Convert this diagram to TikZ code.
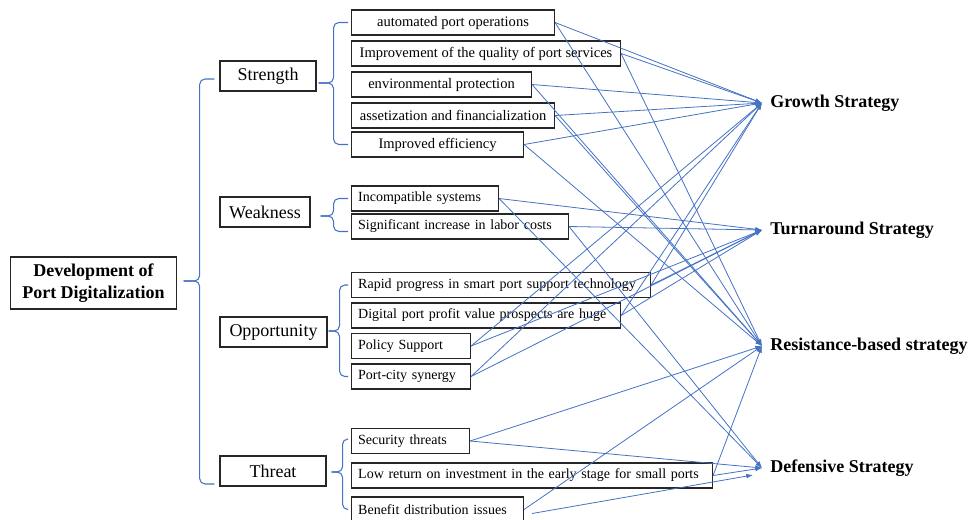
\documentclass[tikz,border=0pt]{standalone}
\usepackage{fontspec}
\setmainfont{Liberation Serif}
\usetikzlibrary{positioning}
\usetikzlibrary{calc}
\usetikzlibrary{arrows.meta}
\definecolor{lineblue}{RGB}{68,114,196}

\begin{document}
\begin{tikzpicture}[x=0.75pt, y=-0.75pt,
        root/.style={rectangle, draw=black!85, line width=0.8pt, fill=white, inner sep=0pt, align=center,
                     minimum width=124pt, minimum height=39pt, font=\fontsize{13.5}{17}\selectfont\bfseries},
        cat/.style={rectangle, draw=black!85, line width=0.8pt, fill=white, inner sep=0pt,
                    minimum height=22.5pt, font=\fontsize{13.5}{16}\selectfont},
        item/.style={rectangle, draw=black!85, line width=0.8pt, fill=white, inner xsep=5pt, inner ysep=0pt,
                     anchor=west, minimum height=18.75pt, font=\fontsize{10.9}{13}\selectfont},
        itemL/.style={item, align=left, text width=#1, font=\fontsize{10.5}{13}\selectfont},
        strat/.style={anchor=west, inner xsep=6pt, font=\fontsize{13.5}{16}\selectfont\bfseries},
        brace/.style={lineblue, line width=0.8pt, rounded corners=4pt},
        link/.style={lineblue, line width=0.6pt, -{Latex[length=5pt,width=3.5pt]}},
        ]
            \useasboundingbox (0,0) rectangle (976,519);

            \node[root] (root) at (93.5,283) {Development of\\Port Digitalization};

            \node[cat, minimum width=72pt] (str) at (268,76) {Strength};
            \node[cat, minimum width=67.5pt] (wea) at (265,212) {Weakness};
            \node[cat, minimum width=80.25pt] (opp) at (273.5,332) {Opportunity};
            \node[cat, minimum width=79.5pt] (thr) at (273,471) {Threat};

            % strength
            \node[item, minimum width=152.25pt] (s1) at (351,22.5) {automated port operations};
            \node[item, minimum width=201.75pt] (s2) at (351,53.5) {Improvement of the quality of port services};
            \node[item, minimum width=135pt] (s3) at (351,84.5) {environmental protection};
            \node[item, minimum width=152.25pt] (s4) at (351,115.5) {assetization and financialization};
            \node[item, minimum width=129pt] (s5) at (351,144.5) {Improved efficiency};
            % weakness
            \node[itemL=100.25pt] (w1) at (351,198.5) {Incompatible systems};
            \node[itemL=152.75pt] (w2) at (351,226.5) {Significant increase in labor costs};
            % opportunity
            \node[itemL=214.25pt] (o1) at (351,285) {Rapid progress in smart port support technology};
            \node[itemL=191.75pt] (o2) at (351,315.5) {Digital port profit value prospects are huge};
            \node[itemL=79.25pt] (o3) at (351,346) {Policy Support};
            \node[itemL=79.25pt] (o4) at (351,376.5) {Port-city synergy};
            % threat
            \node[itemL=78.5pt] (t1) at (351,441) {Security threats};
            \node[itemL=260.75pt] (t2) at (351,475.5) {Low return on investment in the early stage for small ports};
            \node[itemL=119pt] (t3) at (351,509.5) {Benefit distribution issues};

            \node[strat] (gs) at (762,103) {Growth Strategy};
            \node[strat] (ts) at (762,230) {Turnaround Strategy};
            \node[strat] (rs) at (762,346) {Resistance-based strategy};
            \node[strat] (ds) at (762,468) {Defensive Strategy};

            % braces
            \draw[brace] ($(str.west)+(-5,3)$) -| ($(root.east)+(23,-2)$) -- ($(root.east)+(7,-2)$);
            \draw[brace] ($(root.east)+(7,-2)$) -- ($(root.east)+(23,-2)$) |- ($(thr.west)+(-5,13)$);

            \draw[brace] ($(s1.west)+(-3,0)$) -| ($(str.east)+(17,7)$) -- ($(str.east)+(2,7)$);
            \draw[brace] ($(str.east)+(2,7)$) -- ($(str.east)+(17,7)$) |- ($(s5.west)+(-3,0)$);

            \draw[brace] ($(w1.west)+(-3,0)$) -| ($(wea.east)+(23,4)$) -- ($(wea.east)+(10,4)$);
            \draw[brace] ($(wea.east)+(10,4)$) -- ($(wea.east)+(23,4)$) |- ($(w2.west)+(-3,5)$);

            \draw[brace] ($(o1.west)+(-3,0)$) -| ($(opp.east)+(12,-1)$) -- ($(opp.east)+(1,-1)$);
            \draw[brace] ($(opp.east)+(1,-1)$) -- ($(opp.east)+(12,-1)$) |- ($(o4.west)+(-3,0)$);

            \draw[brace] ($(t1.west)+(-3,-2)$) -| ($(thr.east)+(16,1)$) -- ($(thr.east)+(5,1)$);
            \draw[brace] ($(thr.east)+(5,1)$) -- ($(thr.east)+(16,1)$) |- ($(t3.west)+(-3,0)$);

            % strength -> growth / resistance
            \draw[link] (s1.east) -- (gs.west);
            \draw[link] (s1.east) -- (rs.west);
            \draw[link] (s2.east) -- (gs.west);
            \draw[link] (s2.east) -- (rs.west);
            \draw[link] (s3.east) -- (gs.west);
            \draw[link] (s3.east) -- (rs.west);
            \draw[link] (s4.east) -- (gs.west);
            \draw[link] (s4.east) -- (rs.west);
            \draw[link] (s5.east) -- (gs.west);
            \draw[link] (s5.east) -- (rs.west);
            % weakness -> turnaround / defensive
            \draw[link] (w1.east) -- (ts.west);
            \draw[link] (w1.east) -- (ds.west);
            \draw[link] (w2.east) -- (ts.west);
            \draw[link] (w2.east) -- (ds.west);
            % opportunity -> growth / turnaround
            \draw[link] (o1.east) -- (gs.west);
            \draw[link] (o1.east) -- (ts.west);
            \draw[link] (o2.east) -- (gs.west);
            \draw[link] (o2.east) -- (ts.west);
            \draw[link] (o3.east) -- (gs.west);
            \draw[link] (o3.east) -- (ts.west);
            \draw[link] (o4.east) -- (gs.west);
            \draw[link] (o4.east) -- (ts.west);
            % threat -> resistance / defensive
            \draw[link] (t1.east) -- (rs.west);
            \draw[link] (t1.east) -- (ds.west);
            \draw[link] (t2.east) -- (rs.west);
            \draw[link] (t2.east) -- (ds.west);
            \draw[link] (t3.east) -- (rs.west);
            \draw[link] ($(t3.east)+(8,4)$) -- ($(ds.west)+(-9,7)$);
        \end{tikzpicture}
\end{document}
